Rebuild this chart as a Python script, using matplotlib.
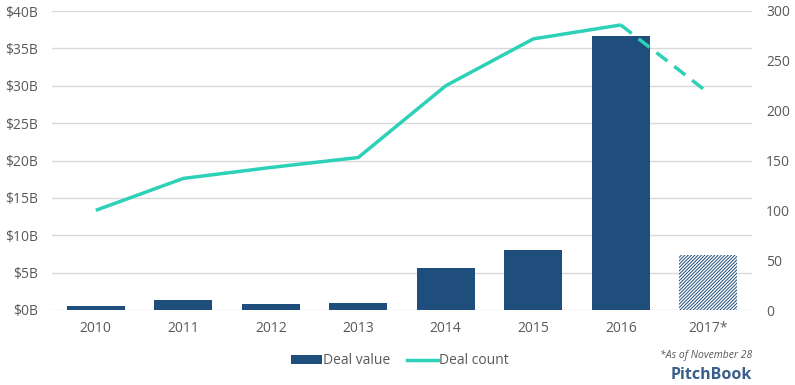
import matplotlib
matplotlib.use("Agg")
import matplotlib.pyplot as plt
import numpy as np

years = ["2010", "2011", "2012", "2013", "2014", "2015", "2016", "2017*"]
deal_value = [0.55, 1.3, 0.85, 1.0, 5.6, 8.0, 36.6, 7.4]  # $B
deal_count = [100, 132, 143, 153, 225, 272, 286, 218]
yticks_left = [0, 5, 10, 15, 20, 25, 30, 35, 40]
yticks_right = [0, 50, 100, 150, 200, 250, 300]

plt.rcParams['font.family'] = ['Open Sans', 'DejaVu Sans']
bar_color = "#1f4e7d"
line_color = "#2dd1b7"
txt_color = "#595959"
plt.rcParams['hatch.color'] = bar_color
plt.rcParams['hatch.linewidth'] = 0.7

fig = plt.figure(figsize=(7.95, 3.85), dpi=100)
ax = fig.add_axes([52/795, 1-310/385, 700/795, 299/385])
x = np.arange(len(years))
n = len(years)
ax.bar(x[:-1], deal_value[:-1], width=0.66, color=bar_color, zorder=3)
ax.bar(x[-1], deal_value[-1], width=0.66, facecolor="white", edgecolor=bar_color,
       hatch="//////////", linewidth=0, zorder=3)
ax.set_xlim(-0.5, n - 0.5)
ax.set_ylim(0, 40)
ax.set_yticks(yticks_left)
ax.set_yticklabels([f"${v}B" for v in yticks_left])
ax.set_xticks(x)
ax.set_xticklabels(years)
ax.grid(axis='y', color="#d9d9d9", linewidth=1, zorder=0)
for s in ax.spines.values():
    s.set_visible(False)
ax.tick_params(length=0, labelsize=10, colors=txt_color, pad=8)
ax.tick_params(axis='y', pad=10)

ax2 = ax.twinx()
ax2.set_ylim(0, 300)
ax2.set_yticks(yticks_right)
for s in ax2.spines.values():
    s.set_visible(False)
ax2.tick_params(length=0, labelsize=10, colors=txt_color, pad=10)
ax2.plot(x[:-1], deal_count[:-1], color=line_color, lw=2.5, zorder=4, solid_capstyle='butt')
ax2.plot(x[-2:], deal_count[-2:], color=line_color, lw=2.5, ls=(0, (4, 2.5)), zorder=4)

from matplotlib.patches import Patch
from matplotlib.lines import Line2D
handles = [Patch(facecolor=bar_color, label="Deal value"),
           Line2D([0], [0], color=line_color, lw=2.5, label="Deal count")]
fig.legend(handles=handles, loc="center", bbox_to_anchor=(400/795, 1-361/385), ncol=2,
           frameon=False, fontsize=10, labelcolor=txt_color, handlelength=2.2,
           handleheight=0.6, handletextpad=0.1, columnspacing=1.2)

fig.text(752/795, 1-355/385, "*As of November 28", ha="right", va="center",
         fontsize=7.5, style="italic", color=txt_color)
fig.text(752/795, 1-375/385, "PitchBook", ha="right", va="center",
         fontsize=11.5, color="#3a5f8a", fontweight="bold")

fig.savefig("out.png", dpi=100)
